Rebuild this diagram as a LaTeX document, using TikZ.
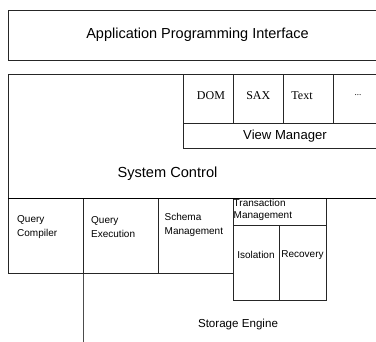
\documentclass[tikz,border=0pt]{standalone}
\usepackage{fontspec}
\setmainfont{Liberation Sans}
\newfontfamily\serifface{Liberation Serif}
\begin{document}
\begin{tikzpicture}[x=1pt,y=-1pt,
  box/.style={draw=black!85,line width=0.8pt,inner sep=0pt,anchor=north west},
  lbl/.style={inner sep=0pt,align=left,font=\fontsize{10}{14}\selectfont},
  vlbl/.style={inner sep=0pt,font=\serifface\fontsize{12}{13}\selectfont}]
\clip (0,0) rectangle (376,342);
\useasboundingbox (0,0) rectangle (376,342);
\fill[white] (0,0) rectangle (376,342);
% API
\node[box,minimum width=390pt,minimum height=50pt] (api) at (8,10) {};
\node[inner sep=0pt,font=\fontsize{14.5}{16}\selectfont] (apit) at (197.5,35) {Application Programming Interface};
% System control
\node[box,minimum width=390pt,minimum height=124pt] (sys) at (8,74) {};
\node[inner sep=0pt,font=\fontsize{14.6}{16}\selectfont] (syst) at (167.5,174) {System Control};
% view manager
\node[box,minimum width=210pt,minimum height=25pt] (vm) at (183,123) {};
\node[inner sep=0pt,font=\fontsize{13.1}{15}\selectfont] (vmt) at (285,136) {View Manager};
\node[box,minimum width=50pt,minimum height=49pt] (dom) at (183,74) {};
\node[box,minimum width=50pt,minimum height=49pt] (sax) at (233,74) {};
\node[box,minimum width=50pt,minimum height=49pt] (txt) at (283,74) {};
\node[box,minimum width=60pt,minimum height=49pt] (dots) at (333,74) {};
\node[vlbl] (domt) at (211,96) {DOM};
\node[vlbl] (saxt) at (258.3,96) {SAX};
\node[vlbl] (txtt) at (302,96) {Text};
\node[vlbl,font=\serifface\fontsize{9}{10}\selectfont] (dotst) at (358,95) {...};
% bottom row
\node[box,minimum width=75pt,minimum height=75pt] (qc) at (8,198) {};
\node[box,minimum width=75pt,minimum height=75pt] (qe) at (83,198) {};
\node[box,minimum width=75pt,minimum height=75pt] (sm) at (158,198) {};
\node[box,minimum width=93pt,minimum height=27pt] (tm) at (233,198) {};
\node[box,minimum width=46pt,minimum height=75pt] (iso) at (233,225) {};
\node[box,minimum width=47pt,minimum height=75pt] (rec) at (279,225) {};
\draw[black,line width=0.9pt] (8,198) -- (376,198);
\node[lbl,anchor=west] (qct) at (17,227.5) {Query\\Compiler};
\node[lbl,anchor=west] (qet) at (91,227.5) {Query\\Execution};
\node[lbl,anchor=west] (smt) at (164.5,225) {Schema\\Management};
\node[lbl,anchor=west,font=\fontsize{10}{11.5}\selectfont] (tmt) at (233.5,209.7) {Transaction\\Management};
\node[lbl] (isot) at (256,254.7) {Isolation};
\node[lbl] (rect) at (302.5,254.7) {Recovery};
% storage engine
\coordinate (seend) at (83,342);
\draw[black!70,line width=0.8pt] (qe.south west) -- (seend);
\node[inner sep=0pt,font=\fontsize{11.6}{13}\selectfont] (set) at (238,325) {Storage Engine};
\end{tikzpicture}
\end{document}
